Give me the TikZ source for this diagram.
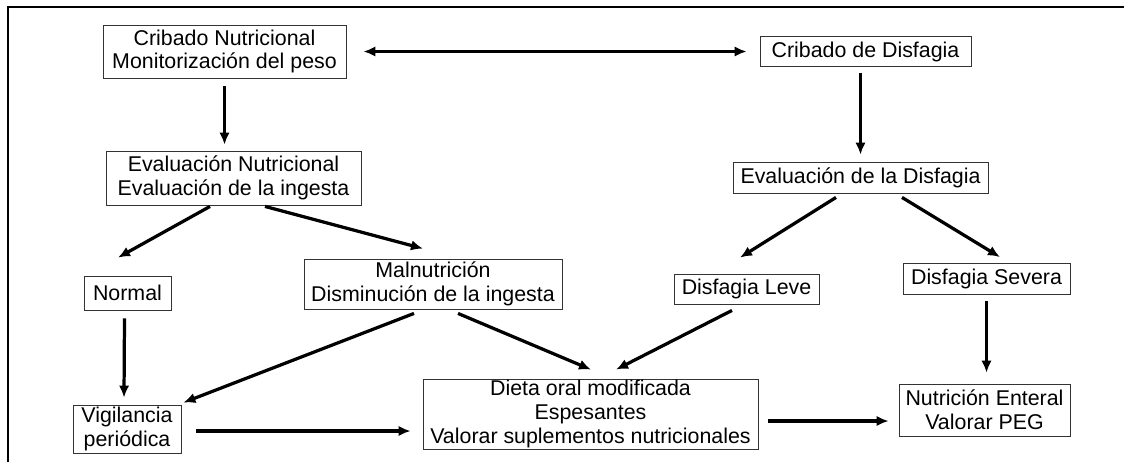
\documentclass[tikz,border=0pt]{standalone}
\usepackage{fontspec}
\setmainfont{Liberation Sans}
\usetikzlibrary{arrows.meta,calc}
\tikzset{
  basenode/.style = {align=center, inner sep=0pt, text centered, font=\fontsize{15.2}{17}\selectfont},
  box_node/.style = {basenode, rectangle, draw=black!80, line width=0.6pt},
  box_size/.style 2 args = {minimum width=#1*0.025cm, minimum height=#2*0.025cm},
  flow_arrow/.style = {line width=2.3pt, -{Latex[length=0.3cm,width=0.26cm]}},
  both_arrow/.style = {line width=2.3pt, {Latex[length=0.3cm,width=0.26cm]}-{Latex[length=0.3cm,width=0.26cm]}},
  frame_line/.style = {line width=1.5pt},
}

\begin{document}
\begin{tikzpicture}[x=0.025cm, y=-0.025cm]
    \useasboundingbox (0,0) rectangle (1124,462);
    \draw[frame_line] (8,462) -- (8,7) -- (1124,7);

    % nutricion
    \node[box_node, box_size={243}{53}] (nutcrib) at (224.5,51.5) {Cribado Nutricional\\Monitorización del peso};
    \node[box_node, box_size={255}{54}] (nuteval) at (233.5,178) {Evaluación Nutricional\\Evaluación de la ingesta};
    \node[box_node, box_size={87}{34}] (normal) at (127.5,293) {Normal};
    \node[box_node, box_size={258}{50}] (malnut) at (433,284) {Malnutrición\\Disminución de la ingesta};
    \node[box_node, box_size={108}{48}] (vigil) at (127,429) {Vigilancia\\periódica};

    % disfagia
    \node[box_node, box_size={211}{30}] (discrib) at (865.5,51.5) {Cribado de Disfagia};
    \node[box_node, box_size={255}{31}] (diseval) at (860.5,177.5) {Evaluación de la Disfagia};
    \node[box_node, box_size={145}{30}] (leve) at (746.5,289) {Disfagia Leve};
    \node[box_node, box_size={167}{31}] (severa) at (986.5,279) {Disfagia Severa};

    % tratamiento
    \node[box_node, box_size={335}{70}] (dieta) at (590.5,414) {Dieta oral modificada\\Espesantes\\Valorar suplementos nutricionales};
    \node[box_node, box_size={171}{52}] (enteral) at (984.5,410) {Nutrición Enteral\\Valorar PEG};

    \draw[both_arrow, shorten <=17*0.025cm, shorten >=13*0.025cm] (nutcrib.east) -- (discrib.west);
    \draw[flow_arrow, shorten <=8*0.025cm, shorten >=6*0.025cm] (nutcrib.south) -- (nutcrib.south |- nuteval.north);
    \draw[flow_arrow, shorten <=6*0.025cm, shorten >=7*0.025cm] (discrib.south -| diseval.north) -- (diseval.north);

    \draw[flow_arrow] ($(nuteval.south)+(-23.5,1)$) -- ($(normal.north)+(-9.5,-18)$);
    \draw[flow_arrow] ($(nuteval.south)+(31.5,1)$) -- ($(malnut.north)+(-10,-10)$);
    \draw[flow_arrow] ($(diseval.south)+(-24.5,4)$) -- ($(leve.north)+(-6.5,-16)$);
    \draw[flow_arrow] ($(diseval.south)+(41.5,4)$) -- ($(severa.north)+(13.5,-6)$);

    \draw[flow_arrow] ($(normal.south)+(-3,8)$) -- ($(vigil.north)+(-3,-7)$);
    \draw[flow_arrow] ($(malnut.south)+(-19,4)$) -- ($(vigil.north east)+(2,-2)$);
    \draw[flow_arrow] ($(malnut.south)+(25,4)$) -- ($(dieta.north)+(0.5,-9)$);
    \draw[flow_arrow] ($(leve.south)+(-14.5,6)$) -- ($(dieta.north)+(25.5,-9)$);
    \draw[flow_arrow, shorten <=6*0.025cm, shorten >=11*0.025cm] (severa.south) -- (severa.south |- enteral.north);

    \draw[flow_arrow] ($(vigil.east)+(15,2)$) -- ($(dieta.west)+(-12,17)$);
    \draw[flow_arrow] ($(dieta.east)+(10,7)$) -- ($(enteral.west)+(-10,11)$);
\end{tikzpicture}
\end{document}
